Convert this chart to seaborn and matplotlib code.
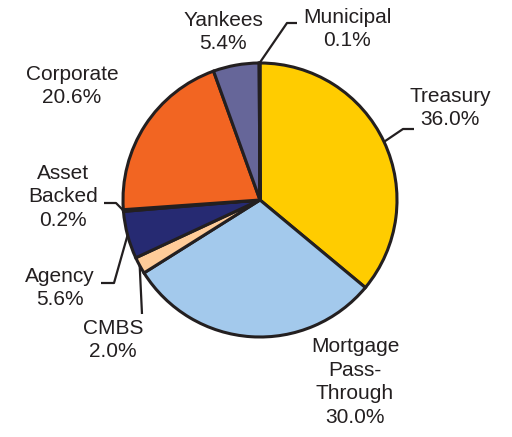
import numpy as np
import matplotlib
matplotlib.use("Agg")
import matplotlib.pyplot as plt
import seaborn as sns

# data, clockwise from 12 o'clock
sectors = ["Treasury", "Mortgage\nPass-\nThrough", "CMBS", "Agency",
           "Asset\nBacked", "Corporate", "Yankees", "Municipal"]
shares = [36.0, 30.0, 2.0, 5.6, 0.2, 20.6, 5.4, 0.1]
colors = ["#FFCC00", "#A3C9EC", "#FFCC99", "#262A72",
          "#262A72", "#F26522", "#666699", "#666699"]

# label layout in pixel coordinates of the 512x437 picture
label_pos = [(450, 108), (355, 382), (113, 340), (60, 288),
             (63, 197), (72, 86), (223, 32), (347, 29)]
# leader elbows (pixel), None = no leader line
elbows = [[(403, 129), (414, 129)], None, [(142, 314)],
          [(114, 283), (101, 283)], [(116, 203), (104, 203)],
          None, None, [(287, 23), (297, 23)]]

sns.set_style("white")
plt.rcParams["font.family"] = ["Liberation Sans", "DejaVu Sans"]

CX, CY, R = 260, 200, 137


def to_data(p):
    return ((p[0] - CX) / R, (CY - p[1]) / R)


fig = plt.figure(figsize=(5.12, 4.37), dpi=100)
ax = fig.add_axes([0, 0, 1, 1])
wedges, _ = ax.pie(shares, colors=colors, startangle=90, counterclock=False,
                   wedgeprops=dict(edgecolor="#231F20", linewidth=2.2))
ax.set_xlim(-CX / R, (512 - CX) / R)
ax.set_ylim(-(437 - CY) / R, CY / R)
ax.set_aspect("equal")
ax.axis("off")

for name, val, w, pos, elb in zip(sectors, shares, wedges, label_pos, elbows):
    x, y = to_data(pos)
    ax.text(x, y, f"{name}\n{val:.1f}%", ha="center", va="center",
            ma="center", fontsize=15, color="#231F20", linespacing=1.32)
    if elb is not None:
        ang = np.deg2rad((w.theta1 + w.theta2) / 2)
        pts = [(np.cos(ang), np.sin(ang))] + [to_data(p) for p in elb]
        xs, ys = zip(*pts)
        ax.plot(xs, ys, color="#231F20", lw=1.6, solid_capstyle="butt")

fig.savefig("out.png", dpi=100)
